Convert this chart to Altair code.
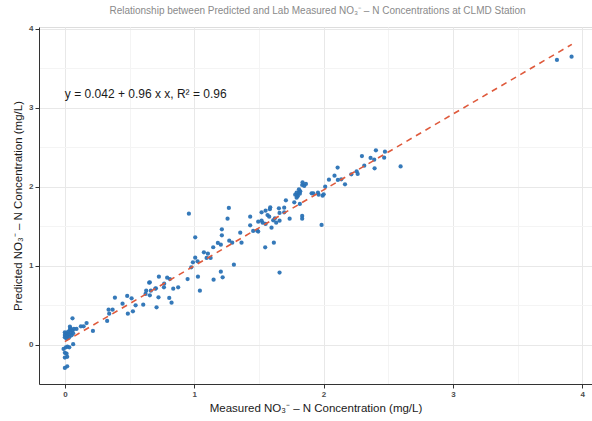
import altair as alt
import pandas as pd

# Measured (x) and predicted (y) NO3-N concentrations
measured = [
    0.0, 0.0, 0.0, 0.013, 0.018, 0.026, 0.031, 0.039, 0.046, 0.052, 0.059, 0.064, 0.07, 0.013, 0.033, 0.044, 0.064, 0.039,
    0.059, 0.09, 0.124, 0.145, 0.168, 0.217,
    -0.01, 0.008, 0.034, 0.0, 0.013, 0.018, 0.0, 0.018, 0.0, 0.02,
    0.327, 0.338, 0.369, 0.343, 0.387, 0.446, 0.482, 0.487, 0.516, 0.526, 0.547, 0.606, 0.624, 0.629, 0.652, 0.657,
    0.665, 0.699, 0.709, 0.724,
    0.704, 0.727, 0.657, 0.766, 0.768, 0.791, 0.807, 0.812, 0.825, 0.838, 0.876, 0.949, 0.959, 0.977, 0.990, 1.008,
    1.008, 1.026, 1.029, 1.044, 1.075, 1.096, 1.106, 1.127, 1.147, 1.150, 1.183, 1.206, 1.206, 1.214, 1.214, 1.220,
    1.258, 1.268, 1.271, 1.294, 1.307, 1.356, 1.366, 1.433, 1.433, 1.456, 1.487, 1.495, 1.495, 1.521, 1.521, 1.529,
    1.549, 1.552, 1.552, 1.567, 1.580, 1.585,
    1.588, 1.598, 1.611, 1.616, 1.624, 1.634, 1.655, 1.660, 1.660, 1.660, 1.696, 1.696, 1.709, 1.738, 1.774, 1.781,
    1.792, 1.792, 1.800, 1.800, 1.810, 1.812, 1.817, 1.817, 1.820, 1.835, 1.835, 1.835, 1.838, 1.851, 1.864, 1.908,
    1.921, 1.957, 1.962, 1.985, 1.993, 2.001, 2.013, 2.042, 2.085, 2.109, 2.111, 2.137, 2.166, 2.215, 2.256, 2.264,
    2.297, 2.315, 2.364, 2.392, 2.395, 2.405, 2.475, 2.469, 2.596, 3.805, 3.918,
]
predicted = [
    0.16, 0.127, 0.097, 0.148, 0.114, 0.169, 0.135, 0.19, 0.156, 0.123, 0.181, 0.148, 0.203, 0.08, 0.097, 0.211, 0.01, 0.232,
    0.338, 0.203, 0.236, 0.236, 0.278, 0.177,
    -0.05, -0.03, -0.03, -0.10, -0.11, -0.15, -0.16, -0.27, -0.29, -0.02,
    0.304, 0.447, 0.447, 0.396, 0.599, 0.523, 0.620, 0.396, 0.591, 0.426, 0.502, 0.510, 0.646, 0.687, 0.789, 0.628,
    0.687, 0.713, 0.477, 0.603,
    0.717, 0.865, 0.793, 0.730, 0.776, 0.852, 0.595, 0.835, 0.535, 0.713, 0.730, 0.835, 1.662, 0.983, 1.046, 1.105,
    1.363, 1.059, 0.865, 0.687, 1.173, 1.101, 1.156, 1.101, 1.237, 0.827, 1.291, 1.270, 0.928, 1.464, 1.388, 0.857,
    1.599, 1.734, 1.320, 1.295, 1.017, 1.422, 1.295, 1.624, 1.515, 1.443, 1.447, 1.435, 1.561, 1.680, 1.573, 1.548,
    1.236, 1.700, 1.532, 1.645, 1.624, 1.718,
    1.742, 1.485, 1.578, 1.295, 1.603, 1.548, 1.730, 1.671, 1.574, 0.916, 1.738, 1.680, 1.831, 1.599, 1.806, 1.903,
    1.928, 1.865, 1.899, 1.882, 1.971, 1.937, 1.915, 1.785, 1.945, 2.025, 1.633, 1.599, 2.059, 2.013, 2.038, 1.920,
    1.920, 1.928, 1.903, 1.519, 1.890, 1.907, 2.004, 2.093, 2.143, 2.245, 2.089, 2.097, 2.034, 2.160, 2.198, 2.165,
    2.392, 2.270, 2.367, 2.346, 2.236, 2.464, 2.447, 2.371, 2.260, 3.608, 3.649,
]

# Fitted line end points (y = 0.042 + 0.96 x)
fit_x = [0.0, 3.92]
fit_y = [0.042, 3.805]

title_text = "Relationship between Predicted and Lab Measured NO\u2083\u207b \u2013 N Concentrations at CLMD Station"
x_title = "Measured NO\u2083\u207b \u2013 N Concentration (mg/L)"
y_title = "Predicted NO\u2083\u207b \u2013 N Concentration (mg/L)"
eq_label = ["y = 0.042 + 0.96 x x, R\u00b2 = 0.96"]
eq_pos_x = [0.0]
eq_pos_y = [3.18]

x_grid_values = [0, 0.5, 1, 1.5, 2, 2.5, 3, 3.5, 4]
y_grid_values = [-0.5, 0, 0.5, 1, 1.5, 2, 2.5, 3, 3.5, 4]

points_df = pd.DataFrame({"measured": measured, "predicted": predicted})
fit_df = pd.DataFrame({"measured": fit_x, "predicted": fit_y})
eq_df = pd.DataFrame({"measured": eq_pos_x, "predicted": eq_pos_y, "label": eq_label})

FONT = "Liberation Sans"
minor_test = "datum.value % 1 !== 0"
grid_color = {"condition": {"test": minor_test, "value": "#f4f4f4"}, "value": "#e8e8e8"}
tick_op = {"condition": {"test": minor_test, "value": 0}, "value": 1}
label_expr = "datum.value % 1 === 0 ? format(datum.value, 'd') : ''"

common_axis = dict(
    grid=True,
    gridColor=grid_color,
    gridWidth=1,
    tickOpacity=tick_op,
    tickSize=4,
    tickColor="#333333",
    domainColor="#333333",
    domainWidth=1,
    labelExpr=label_expr,
    labelFont=FONT,
    labelFontSize=8,
    labelFontWeight="bold",
    labelColor="#4d4d4d",
    labelPadding=2,
    titleFont=FONT,
    titleFontSize=11.5,
    titleFontWeight="normal",
    titleColor="#1a1a1a",
)

x_enc = alt.X(
    "measured:Q",
    scale=alt.Scale(domain=[-0.2, 4.076], nice=False, zero=False),
    axis=alt.Axis(title=x_title, values=x_grid_values, titlePadding=4, **common_axis),
)
y_enc = alt.Y(
    "predicted:Q",
    scale=alt.Scale(domain=[-0.494, 4.025], nice=False, zero=False),
    axis=alt.Axis(title=y_title, values=y_grid_values, titlePadding=5, **common_axis),
)

points = alt.Chart(points_df).mark_circle(size=18, opacity=0.95, color="#2a72b5").encode(x=x_enc, y=y_enc)

fit_line = alt.Chart(fit_df).mark_line(
    color="#df5a3c", strokeWidth=1.6, strokeDash=[6, 5]
).encode(x="measured:Q", y="predicted:Q")

eq_text = alt.Chart(eq_df).mark_text(
    align="left", baseline="middle", font=FONT, fontSize=12, color="#1a1a1a"
).encode(x="measured:Q", y="predicted:Q", text="label:N")

chart = (
    alt.layer(points, fit_line, eq_text)
    .properties(
        width=553,
        height=357,
        title=alt.TitleParams(
            text=title_text,
            font=FONT,
            fontSize=10,
            fontWeight="normal",
            color="#8a8a8a",
            anchor="middle",
            offset=9,
            dx=2,
        ),
        autosize=alt.AutoSizeParams(type="none"),
        padding={"left": 39, "top": 27, "right": 0, "bottom": 37},
    )
    .configure_view(stroke="#8c8c8c", strokeWidth=1)
    .configure(background="white")
)

chart.save("out.html", embed_options={"renderer": "svg", "actions": False})
